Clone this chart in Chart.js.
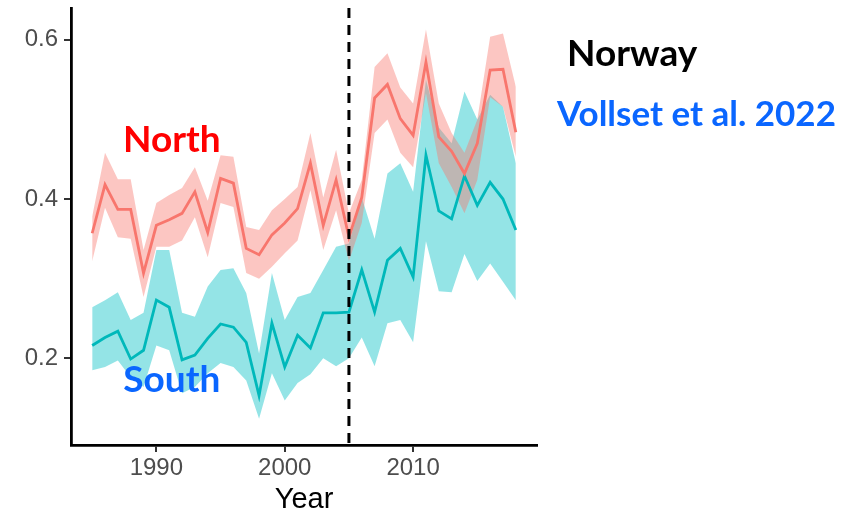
<!DOCTYPE html>
<html>
<head>
<meta charset="utf-8">
<script src="https://cdn.jsdelivr.net/npm/chart.js@4.4.1/dist/chart.umd.min.js"></script>
<style>
  html, body { margin: 0; padding: 0; background: #ffffff; }
  #wrap { width: 866px; height: 517px; position: relative; }
</style>
</head>
<body>
<div id="wrap"><canvas id="c" width="866" height="517"></canvas></div>
<script>
// ---- data ----
const years = [1985,1986,1987,1988,1989,1990,1991,1992,1993,1994,1995,1996,1997,1998,1999,2000,2001,2002,2003,2004,2005,2006,2007,2008,2009,2010,2011,2012,2013,2014,2015,2016,2017,2018];

const northMean  = [0.357,0.418,0.387,0.387,0.307,0.367,0.374,0.382,0.409,0.358,0.426,0.420,0.338,0.330,0.355,0.370,0.388,0.445,0.367,0.424,0.352,0.402,0.527,0.544,0.501,0.480,0.572,0.478,0.460,0.432,0.470,0.562,0.563,0.484];
const northUpper = [0.378,0.458,0.425,0.425,0.336,0.395,0.405,0.414,0.440,0.398,0.455,0.453,0.365,0.361,0.386,0.400,0.415,0.483,0.402,0.462,0.382,0.424,0.566,0.583,0.540,0.520,0.613,0.520,0.483,0.458,0.500,0.604,0.608,0.541];
const northLower = [0.322,0.389,0.352,0.350,0.277,0.340,0.340,0.348,0.377,0.327,0.395,0.390,0.307,0.300,0.315,0.332,0.348,0.411,0.336,0.386,0.322,0.370,0.483,0.500,0.458,0.440,0.533,0.445,0.415,0.382,0.424,0.528,0.516,0.453];

const southMean  = [0.216,0.226,0.234,0.199,0.210,0.273,0.264,0.198,0.204,0.225,0.243,0.239,0.220,0.153,0.244,0.189,0.229,0.213,0.257,0.257,0.258,0.311,0.258,0.323,0.338,0.302,0.455,0.385,0.375,0.429,0.392,0.421,0.400,0.361];
const southUpper = [0.264,0.273,0.283,0.248,0.257,0.336,0.336,0.257,0.252,0.290,0.311,0.313,0.282,0.206,0.307,0.248,0.277,0.282,0.311,0.340,0.344,0.402,0.350,0.432,0.445,0.409,0.550,0.490,0.470,0.535,0.500,0.531,0.516,0.445];
const southLower = [0.185,0.189,0.197,0.176,0.164,0.216,0.210,0.156,0.164,0.181,0.194,0.189,0.172,0.124,0.181,0.147,0.169,0.180,0.200,0.190,0.200,0.226,0.190,0.244,0.248,0.220,0.347,0.284,0.283,0.331,0.297,0.319,0.296,0.273];

const xTicks = [1990, 2000, 2010];
const yTicks = [0.2, 0.4, 0.6];
const cutYear = 2005;
const xLabel = 'Year';
const seriesNames = ['North', 'South'];
const titleText = 'Norway';
const sourceText = 'Vollset et al. 2022';

// ---- helpers ----
const pts = arr => arr.map((v, i) => ({ x: years[i], y: v }));

const NORTH_LINE = '#F8766D';
const SOUTH_LINE = '#00B8BA';
const NORTH_FILL = 'rgba(248,118,109,0.42)';
const SOUTH_FILL = 'rgba(0,191,196,0.42)';

const overlay = {
  id: 'overlay',
  afterDatasetsDraw(chart) {
    const { ctx, chartArea, scales } = chart;
    const xp = scales.x.getPixelForValue(cutYear);
    ctx.save();
    ctx.strokeStyle = '#000000';
    ctx.lineWidth = 3;
    ctx.setLineDash([10, 7]);
    ctx.beginPath();
    ctx.moveTo(xp, chartArea.top);
    ctx.lineTo(xp, chartArea.bottom);
    ctx.stroke();
    ctx.restore();
  },
  afterDraw(chart) {
    const { ctx, scales } = chart;
    ctx.save();
    ctx.textBaseline = 'alphabetic';
    ctx.textAlign = 'center';
    ctx.font = 'bold 37px Lato, "Open Sans", sans-serif';
    ctx.fillStyle = '#FF0000';
    ctx.fillText(seriesNames[0], scales.x.getPixelForValue(1991.2), scales.y.getPixelForValue(0.459));
    ctx.fillStyle = '#0A66FF';
    ctx.fillText(seriesNames[1], scales.x.getPixelForValue(1991.2), scales.y.getPixelForValue(0.157));
    ctx.textAlign = 'left';
    ctx.fillStyle = '#000000';
    ctx.font = 'bold 37px Lato, "Open Sans", sans-serif';
    ctx.fillText(titleText, 567, 66);
    ctx.fillStyle = '#0A66FF';
    ctx.font = 'bold 35px Lato, "Open Sans", sans-serif';
    ctx.fillText(sourceText, 557, 126);
    ctx.restore();
  }
};

new Chart(document.getElementById('c'), {
  type: 'line',
  data: {
    datasets: [
      { label: 'southUpper', data: pts(southUpper), fill: '+1', backgroundColor: SOUTH_FILL, borderWidth: 0, pointRadius: 0, order: 5 },
      { label: 'southLower', data: pts(southLower), fill: false, borderWidth: 0, pointRadius: 0, order: 5 },
      { label: 'northUpper', data: pts(northUpper), fill: '+1', backgroundColor: NORTH_FILL, borderWidth: 0, pointRadius: 0, order: 4 },
      { label: 'northLower', data: pts(northLower), fill: false, borderWidth: 0, pointRadius: 0, order: 4 },
      { label: 'South', data: pts(southMean), fill: false, borderColor: SOUTH_LINE, borderWidth: 2.8, pointRadius: 0, order: 1 },
      { label: 'North', data: pts(northMean), fill: false, borderColor: NORTH_LINE, borderWidth: 2.8, pointRadius: 0, order: 0 }
    ]
  },
  options: {
    responsive: false,
    animation: false,
    layout: { padding: { left: 0, right: 329, top: 8, bottom: 0 } },
    plugins: { legend: { display: false }, tooltip: { enabled: false } },
    elements: { line: { tension: 0 } },
    scales: {
      x: {
        type: 'linear',
        min: 1983.35,
        max: 2019.65,
        afterBuildTicks: s => { s.ticks = xTicks.map(v => ({ value: v })); },
        afterFit: s => { s.height = 72; s.paddingLeft = 0; s.paddingRight = 0; },
        grid: { display: true, drawOnChartArea: false, drawTicks: true, tickLength: 7, color: '#333333', lineWidth: 2 },
        border: { display: true, color: '#000000', width: 2.8 },
        ticks: { color: '#4D4D4D', font: { family: '"Liberation Sans", Arial, sans-serif', size: 24 }, padding: 2, maxRotation: 0, callback: v => String(v) },
        title: { display: true, text: xLabel, color: '#000000', font: { family: '"Liberation Sans", Arial, sans-serif', size: 29 }, padding: { top: 0, bottom: 0 } }
      },
      y: {
        type: 'linear',
        min: 0.091,
        max: 0.64,
        afterBuildTicks: s => { s.ticks = yTicks.map(v => ({ value: v })); },
        afterFit: s => { s.width = 71; s.paddingTop = 0; s.paddingBottom = 0; },
        grid: { display: true, drawOnChartArea: false, drawTicks: true, tickLength: 7, color: '#333333', lineWidth: 2 },
        border: { display: true, color: '#000000', width: 2.8 },
        ticks: { color: '#4D4D4D', font: { family: '"Liberation Sans", Arial, sans-serif', size: 24 }, padding: 6, callback: v => v.toFixed(1) }
      }
    }
  },
  plugins: [overlay]
});
</script>
</body>
</html>
